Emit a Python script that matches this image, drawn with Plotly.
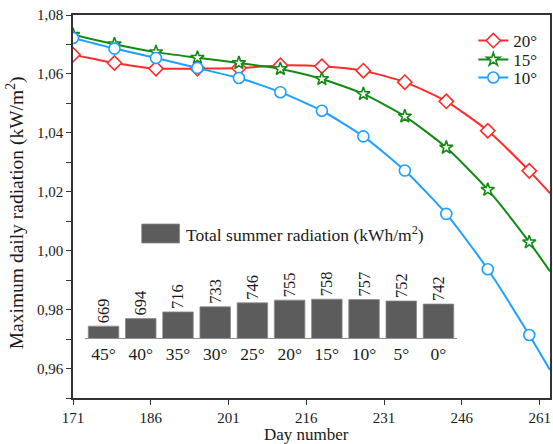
import plotly.graph_objects as go

# Day-of-year samples (last entry marks where the curves leave the plot frame)
days = [171, 179, 187, 195, 203, 211, 219, 227, 235, 243, 251, 259, 263]

# Maximum daily radiation (kW/m2) for three tilt angles
rad_20 = [1.0665, 1.0637, 1.0618, 1.0618, 1.0620, 1.0629, 1.0626, 1.0611,
          1.0572, 1.0507, 1.0407, 1.0271, 1.0195]
rad_15 = [1.0733, 1.0701, 1.0674, 1.0655, 1.0637, 1.0617, 1.0583, 1.0532,
          1.0456, 1.0350, 1.0207, 1.0029, 0.9930]
rad_10 = [1.0722, 1.0686, 1.0654, 1.0620, 1.0586, 1.0538, 1.0475, 1.0388,
          1.0272, 1.0125, 0.9937, 0.9714, 0.9595]

# Total summer radiation (kWh/m2) per tilt angle
tilt_labels = ["45°", "40°", "35°", "30°", "25°", "20°", "15°", "10°", "5°", "0°"]
summer_total = [669, 694, 716, 733, 746, 755, 758, 757, 752, 742]

y_ticks = [0.96, 0.98, 1.00, 1.02, 1.04, 1.06, 1.08]
x_ticks = [171, 186, 201, 216, 231, 246, 261]

FONT = "Liberation Serif, Times New Roman, serif"
TXT = "#1a1a1a"
AX = "#333333"

# Plot-area pixel geometry: x 73..552, y 15..398
L, R, T, B = 73, 552, 15, 398
W, H = R - L, B - T


def px(x):
    return (x - L) / W


def py(y):
    return (B - y) / H


fig = go.Figure()

series = [
    ("20°", rad_20, "#ff2b2b", "diamond", 11, "legend"),
    ("15°", rad_15, "#138a13", "star", 10, "legend2"),
    ("10°", rad_10, "#1ea0ff", "circle", 11, "legend3"),
]
n_marked = len(days) - 1
for name, vals, col, sym, size, leg in series:
    fig.add_trace(go.Scatter(
        x=days, y=vals, name=name, mode="lines+markers",
        line=dict(color=col, width=2, shape="spline", smoothing=0.6),
        marker=dict(
            symbol=sym, size=size,
            color=["white"] * n_marked + ["rgba(0,0,0,0)"],
            line=dict(color=[col] * n_marked + ["rgba(0,0,0,0)"], width=1.6),
        ),
        legend=leg, xaxis="x", yaxis="y",
    ))

fig.add_trace(go.Bar(
    x=tilt_labels, y=summer_total, name="Total summer radiation",
    marker=dict(color="#5c5c5c", line=dict(color="#8a8a8a", width=0.8)),
    width=0.82,
    text=[str(v) for v in summer_total], textposition="outside",
    textangle=-90, constraintext="none", cliponaxis=False,
    textfont=dict(family=FONT, size=16.5, color=TXT),
    showlegend=False, xaxis="x2", yaxis="y2",
))


def legend_box(center_y):
    return dict(
        x=px(475), y=py(center_y - 16), xanchor="left", yanchor="top",
        bgcolor="rgba(0,0,0,0)", font=dict(family=FONT, size=17, color=TXT),
        itemwidth=30,
    )


fig.update_layout(
    width=553, height=444,
    margin=dict(l=L, r=553 - R, t=T, b=444 - B),
    paper_bgcolor="white", plot_bgcolor="white",
    font=dict(family=FONT, size=15, color=TXT),
    separators=",.",
    xaxis=dict(
        range=[171, 263], tickvals=x_ticks, ticks="outside", ticklen=5,
        tickcolor=AX, showline=True, linecolor=AX, linewidth=1.5,
        mirror=True, showgrid=False, zeroline=False,
        tickfont=dict(size=15),
    ),
    yaxis=dict(
        range=[0.95, 1.08], tickvals=y_ticks, tickformat=".2f",
        ticks="outside", ticklen=5, tickcolor=AX,
        minor=dict(dtick=0.01, tick0=0.95, ticks="outside", ticklen=5, tickcolor=AX),
        showline=True, linecolor=AX, linewidth=1.5, mirror=True,
        showgrid=False, zeroline=False, tickfont=dict(size=15),
    ),
    xaxis2=dict(
        domain=[px(85), px(458.7)], anchor="y2", type="category",
        range=[-0.5, 9.5], showline=True, linecolor="#8f8f8f", linewidth=1.2,
        ticks="", showgrid=False, zeroline=False, tickfont=dict(size=17.5),
    ),
    yaxis2=dict(
        domain=[py(338), py(286.5)], anchor="x2", range=[630, 800],
        visible=False, showgrid=False, zeroline=False,
    ),
    bargap=0.18,
    legend=legend_box(39),
    legend2=legend_box(58),
    legend3=legend_box(76),
    shapes=[dict(
        type="rect", xref="paper", yref="paper",
        x0=px(142), x1=px(180), y0=py(243), y1=py(224),
        fillcolor="#5c5c5c", line=dict(color="#8a8a8a", width=0.8),
    )],
    annotations=[
        dict(
            text="Total summer radiation (kWh/m<sup>2</sup>)",
            xref="paper", yref="paper", x=px(184), y=py(234),
            xanchor="left", yanchor="middle", showarrow=False,
            font=dict(family=FONT, size=17.5, color=TXT),
        ),
        dict(
            text="Maximum daily radiation (kW/m<sup>2</sup>)",
            xref="paper", yref="paper", x=px(16), y=py(213),
            xanchor="center", yanchor="middle", textangle=-90,
            showarrow=False, font=dict(family=FONT, size=19.5, color=TXT),
        ),
        dict(
            text="Day number",
            xref="paper", yref="paper", x=px(307), y=py(434),
            xanchor="center", yanchor="middle",
            showarrow=False, font=dict(family=FONT, size=17, color=TXT),
        ),
    ],
)

fig.write_html("out.html")
